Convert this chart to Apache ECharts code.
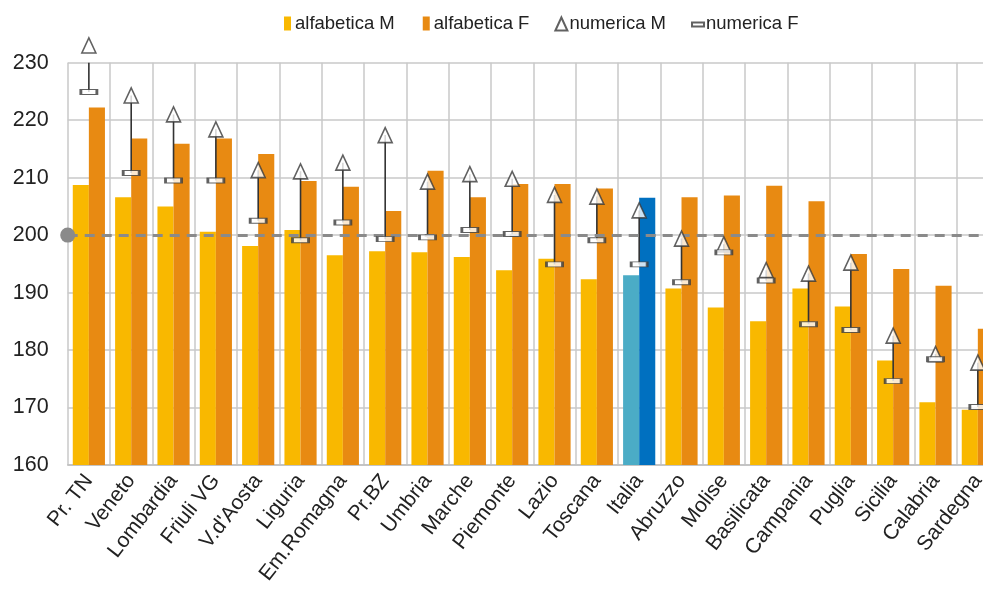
<!DOCTYPE html>
<html>
<head>
<meta charset="utf-8">
<script src="https://cdn.jsdelivr.net/npm/echarts@6/dist/echarts.min.js"></script>
<style>
html,body{margin:0;padding:0;overflow:hidden;background:#fff;}
#chart{width:1000px;height:591px;}
</style>
</head>
<body>
<div id="chart"></div>
<script>
const categories = ['Pr. TN','Veneto','Lombardia','Friuli VG',"V.d'Aosta",'Liguria','Em.Romagna','Pr.BZ','Umbria','Marche','Piemonte','Lazio','Toscana','Italia','Abruzzo','Molise','Basilicata','Campania','Puglia','Sicilia','Calabria','Sardegna'];
const alfabeticaM = [208.7,206.6,205.0,200.6,198.1,200.9,196.5,197.2,197.0,196.2,193.9,195.9,192.3,193.0,190.7,187.4,185.0,190.7,187.6,178.2,170.9,169.6];
const alfabeticaF = [222.2,216.8,215.9,216.8,214.1,209.4,208.4,204.2,211.2,206.6,208.9,208.9,208.1,206.5,206.6,206.9,208.6,205.9,196.7,194.1,191.2,183.7];
const numericaM = [233.0,224.3,221.0,218.4,211.3,211.1,212.6,217.4,209.3,210.6,209.8,207.0,206.7,204.3,199.4,198.4,193.9,193.3,195.2,182.5,179.3,177.8];
const numericaF = [224.9,210.8,209.5,209.5,202.5,199.1,202.2,199.3,199.6,200.9,200.2,194.9,199.1,194.9,191.8,197.0,192.1,184.5,183.5,174.6,178.4,170.1];
const yTicks = {min:160, max:230, interval:10};
const refValue = 200;
const highlightCategory = 'Italia';

const colM = '#F9B800', colF = '#E88A12', colMit = '#4BACC6', colFit = '#0070C0';
const FONT = '"Liberation Sans Narrow", "Liberation Sans", Arial, sans-serif';

// legend icons drawn inside a 12x14 box (invisible zero-length moves fix the box)
const ICON_BAR = 'path://M0 0h0 M3 0h7v14h-7z M12 14h0';
const ICON_TRI = 'path://M0 0h0 M6 1L12 14H0z M12 14h0';
const ICON_EQ  = 'path://M0 0h0 M0 6h12v4h-12z M12 14h0';

const chart = echarts.init(document.getElementById('chart'));
const barData = (vals, hi) => vals.map((v,i) => categories[i]===highlightCategory ? {value:v, itemStyle:{color:hi}} : v);

chart.setOption({
  animation:false,
  backgroundColor:'#fff',
  textStyle:{fontFamily:FONT},
  legend:{
    left:276, top:9, itemGap:25, itemWidth:12, itemHeight:14,
    textStyle:{fontFamily:FONT, fontSize:18.5, color:'#222', padding:[0,0,0,-3]},
    data:[
      {name:'alfabetica M', icon:ICON_BAR},
      {name:'alfabetica F', icon:ICON_BAR},
      {name:'numerica M', icon:ICON_TRI},
      {name:'numerica F', icon:ICON_EQ}
    ]
  },
  grid:{left:67.7, right:1, top:62.7, bottom:126, containLabel:false},
  xAxis:{
    type:'category', data:categories, boundaryGap:true,
    axisLine:{show:true, lineStyle:{color:'#BFBFBF', width:1.5}},
    axisTick:{show:false},
    splitLine:{show:true, lineStyle:{color:'#C8C8C8', width:1.5}},
    axisLabel:{rotate:52, interval:0, margin:12, fontFamily:FONT, fontSize:21, color:'#222'}
  },
  yAxis:{
    type:'value', min:yTicks.min, max:yTicks.max, interval:yTicks.interval,
    axisLine:{show:false}, axisTick:{show:false},
    splitLine:{show:true, lineStyle:{color:'#C8C8C8', width:1.5}},
    axisLabel:{margin:19, fontFamily:FONT, fontSize:21.5, color:'#222'}
  },
  series:[
    {name:'alfabetica M', type:'bar', data:barData(alfabeticaM, colMit), itemStyle:{color:colM},
     barGap:'0%', barCategoryGap:'24%', z:2},
    {name:'alfabetica F', type:'bar', data:barData(alfabeticaF, colFit), itemStyle:{color:colF},
     barGap:'0%', barCategoryGap:'24%', z:2},
    {name:'connector', type:'custom', clip:true, z:3,
     data: categories.map((c,i) => [i, numericaM[i], numericaF[i]]),
     renderItem:(params, api) => {
       const a = api.coord([api.value(0), api.value(1)]);
       const b = api.coord([api.value(0), api.value(2)]);
       return {type:'line', shape:{x1:a[0], y1:a[1], x2:b[0], y2:b[1]},
               style:{stroke:'#333', lineWidth:1.6}};
     },
     markLine:{silent:true, symbol:['circle','none'], symbolSize:15, precision:1,
       label:{show:false},
       lineStyle:{color:'#8A8A8A', type:[10,7], width:3},
       itemStyle:{color:'#8A8A8A'},
       data:[{yAxis:refValue}]}
    },
    {name:'numerica M', type:'scatter', data:numericaM, symbol:'triangle', symbolSize:[14,15],
     clip:false, z:5, itemStyle:{color:'#fff', borderColor:'#3A3A3A', borderWidth:1.6}},
    {name:'numerica F', type:'scatter', data:numericaF, symbol:'rect', symbolSize:[16,5],
     clip:false, z:5, itemStyle:{color:'#fff', borderColor:'#3A3A3A', borderWidth:1.6}}
  ]
});
</script>
</body>
</html>
